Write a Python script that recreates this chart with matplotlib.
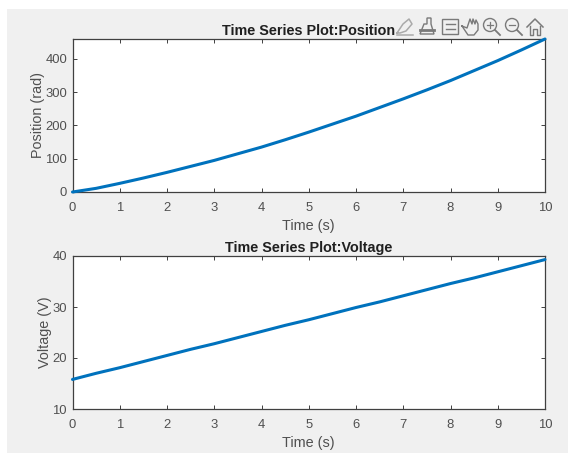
import matplotlib
matplotlib.use('Agg')
import matplotlib.pyplot as plt
from matplotlib.patches import Rectangle, Circle, Polygon
from matplotlib.lines import Line2D

time_s = [0, 0.5, 1, 1.5, 2, 2.5, 3, 3.5, 4, 4.5, 5, 5.5, 6, 6.5, 7, 7.5, 8, 8.5, 9, 9.5, 10]
position = [0, 11, 26, 42, 59, 77, 95, 115, 135, 157, 180, 204, 228, 254, 280, 307, 335, 365, 395, 427, 460]
voltage = [15.8, 17.0, 18.1, 19.3, 20.5, 21.7, 22.8, 24.0, 25.2, 26.4, 27.5, 28.7, 29.9, 31.0,
           32.2, 33.4, 34.6, 35.7, 36.9, 38.1, 39.3]
x_ticks = [0, 1, 2, 3, 4, 5, 6, 7, 8, 9, 10]
pos_ticks = [0, 100, 200, 300, 400]
volt_ticks = [10, 20, 30, 40]

W, H = 574, 453
plt.rcParams['font.family'] = ['Liberation Sans', 'DejaVu Sans']
plt.rcParams['font.size'] = 10.4


def px_axes(fig, left, top, right, bottom):
    return fig.add_axes([left / W, 1 - bottom / H, (right - left) / W, (bottom - top) / H])


def draw_panel(ax, y, yticks, ylim, ylabel, title):
    ax.plot(time_s, y, color='#0072BD', lw=2.2, clip_on=False, solid_capstyle='round', zorder=5)
    ax.set_xlim(0, 10)
    ax.set_ylim(*ylim)
    ax.set_xticks(x_ticks)
    ax.set_yticks(yticks)
    ax.tick_params(direction='in', top=True, right=True, length=3.2, width=0.7,
                   color='#404040', labelcolor='#505050', labelsize=9.4)
    ax.tick_params(axis='x', pad=7)
    ax.tick_params(axis='y', pad=4)
    for s in ax.spines.values():
        s.set_linewidth(0.9)
        s.set_color('#404040')
    ax.set_xlabel('Time (s)', color='#505050', labelpad=3.5)
    ax.set_ylabel(ylabel, color='#505050', labelpad=0)
    ax.set_title(title, fontsize=10.4, fontweight='bold', color='#202020', pad=3)


def draw_toolbar(fig):
    # toolbar glyphs drawn in pixel coordinates over the figure
    tb = fig.add_axes([0, 0, 1, 1], zorder=10)
    tb.set_xlim(0, W)
    tb.set_ylim(H, 0)
    tb.axis('off')
    c = '#7a7a7a'
    # data-tip / edit
    tb.add_line(Line2D([397, 403, 409, 412, 406, 400, 397], [33, 24, 19, 24, 31, 33, 33], color='#aaaaaa', lw=1.1))
    tb.add_line(Line2D([397, 413], [35, 35], color='#aaaaaa', lw=1.1))
    # brush
    tb.add_patch(Polygon([[427, 18], [431, 18], [431, 24], [434, 34], [420, 34], [424, 24], [427, 24]],
                         fill=False, ec=c, lw=1.0))
    tb.add_line(Line2D([420, 434], [30, 30], color=c, lw=2.0))
    # legend
    tb.add_patch(Rectangle((442, 19), 16, 15, fill=False, ec=c, lw=1.0))
    tb.add_line(Line2D([446, 455], [24, 24], color=c, lw=1.0))
    tb.add_line(Line2D([446, 455], [29, 29], color=c, lw=1.0))
    # hand
    tb.add_line(Line2D([462, 467, 469, 470, 472, 473, 475, 476, 478, 478, 474, 468, 462],
                       [26, 28, 22, 19, 24, 19, 24, 20, 24, 30, 35, 35, 26], color=c, lw=1.0))
    # zoom in / zoom out
    for cx, plus in [(490, True), (512, False)]:
        tb.add_patch(Circle((cx, 25), 6.5, fill=False, ec=c, lw=1.0))
        tb.add_line(Line2D([cx + 5, cx + 10], [30, 35], color=c, lw=1.3))
        tb.add_line(Line2D([cx - 3, cx + 3], [25, 25], color=c, lw=0.9))
        if plus:
            tb.add_line(Line2D([cx, cx], [22, 28], color=c, lw=0.9))
    # home
    tb.add_line(Line2D([527, 535, 543], [27, 19, 27], color=c, lw=1.1))
    tb.add_line(Line2D([530, 530, 533, 533, 537, 537, 540, 540], [26, 35, 35, 29, 29, 35, 35, 26], color=c, lw=1.0))


fig = plt.figure(figsize=(W / 100, H / 100), dpi=100, facecolor='white')
fig.patches.append(Rectangle((7 / W, 0), (568 - 7) / W, 1 - 9 / H, transform=fig.transFigure,
                             facecolor='#f0f0f0', edgecolor='none', figure=fig, zorder=-5))

ax1 = px_axes(fig, 72.5, 39, 545, 192)
draw_panel(ax1, position, pos_ticks, (0, 460), 'Position (rad)', 'Time Series Plot:Position')
ax2 = px_axes(fig, 72.5, 256, 545, 409)
draw_panel(ax2, voltage, volt_ticks, (10, 40), 'Voltage (V)', 'Time Series Plot:Voltage')
draw_toolbar(fig)

fig.savefig('out.png', dpi=100)
